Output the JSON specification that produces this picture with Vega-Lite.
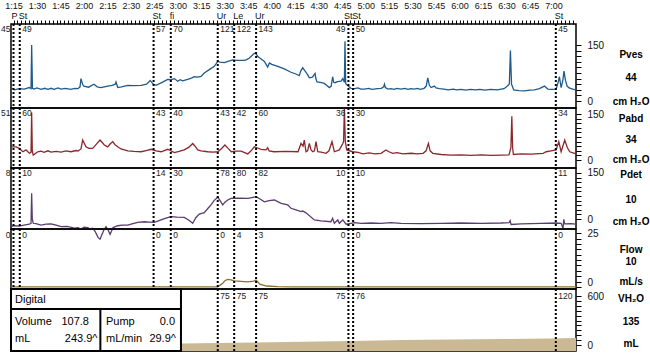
{
"$schema": "https://vega.github.io/schema/vega-lite/v6.json",
"padding": 0,
"spacing": 0,
"bounds": "flush",
"config": {"view": {"stroke": "black", "strokeWidth": 1.5}, "font": "Liberation Sans", "axis": {"grid": false, "domain": false, "tickColor": "black", "labelColor": "#111", "labelFlush": false, "labelOverlap": false, "labelFont": "Liberation Sans"}},
"datasets": {
"events": [
{"t":75,"code":"P","pves":45,"pabd":51,"pdet":8,"flow":0},
{"t":79,"code":"St","pves":49,"pabd":60,"pdet":10,"flow":0},
{"t":164.5,"code":"St","pves":57,"pabd":43,"pdet":14,"flow":0},
{"t":175.5,"code":"fi","pves":70,"pabd":40,"pdet":30,"flow":0},
{"t":205.5,"code":"Ur","pves":121,"pabd":43,"pdet":78,"flow":0,"vol":75},
{"t":216,"code":"Le","pves":122,"pabd":42,"pdet":80,"flow":4,"vol":75},
{"t":230,"code":"Ur","pves":143,"pabd":60,"pdet":82,"flow":3,"vol":75},
{"t":289,"code":"St","pves":49,"pabd":36,"pdet":10,"flow":0,"vol":75},
{"t":292,"code":"St","pves":50,"pabd":30,"pdet":10,"flow":0,"vol":76},
{"t":421.5,"code":"St","pves":45,"pabd":34,"pdet":11,"flow":0,"vol":120}
],
"pves": [{"t":73.4,"v":36},{"t":75.5,"v":30},{"t":78.7,"v":33},{"t":81.9,"v":32},{"t":85.1,"v":36},{"t":86.2,"v":33},{"t":86.6,"v":150},{"t":87.1,"v":34},{"t":88.1,"v":32},{"t":90,"v":35},{"t":92.6,"v":31},{"t":95,"v":34},{"t":97,"v":31},{"t":99,"v":34},{"t":101,"v":31},{"t":103.4,"v":35},{"t":105.4,"v":32},{"t":108,"v":34},{"t":111.7,"v":31},{"t":114,"v":34},{"t":116.2,"v":33},{"t":117.5,"v":38},{"t":118.1,"v":60},{"t":119.2,"v":44},{"t":119.9,"v":40},{"t":123,"v":37},{"t":126.4,"v":45},{"t":128.5,"v":38},{"t":130.9,"v":36},{"t":133,"v":38},{"t":135.2,"v":40},{"t":138,"v":42},{"t":140,"v":45},{"t":140.5,"v":51},{"t":141.6,"v":36},{"t":144,"v":38},{"t":148,"v":42},{"t":152,"v":41},{"t":156.5,"v":42},{"t":160,"v":45},{"t":162.4,"v":55},{"t":164,"v":46},{"t":166.1,"v":42},{"t":170,"v":50},{"t":173.5,"v":58},{"t":175.5,"v":57},{"t":177.8,"v":60},{"t":179.9,"v":53},{"t":181.5,"v":57},{"t":183,"v":54},{"t":186.3,"v":58},{"t":189,"v":62},{"t":190.5,"v":65},{"t":192.7,"v":64},{"t":194.8,"v":66},{"t":196.9,"v":75},{"t":200.1,"v":84},{"t":203.3,"v":93},{"t":205.5,"v":106},{"t":207,"v":104},{"t":209.7,"v":103},{"t":212,"v":106},{"t":215.1,"v":110},{"t":218,"v":109},{"t":222.5,"v":109},{"t":224,"v":111},{"t":225.7,"v":115},{"t":228.9,"v":128},{"t":230,"v":126},{"t":231.1,"v":119},{"t":233,"v":113},{"t":235.3,"v":106},{"t":237.4,"v":91},{"t":238.5,"v":102},{"t":240,"v":98},{"t":243.8,"v":93},{"t":248,"v":86},{"t":252.3,"v":77},{"t":255,"v":73},{"t":257.6,"v":68},{"t":258.5,"v":80},{"t":259.8,"v":89},{"t":261,"v":82},{"t":261.9,"v":77},{"t":263,"v":70},{"t":264,"v":62},{"t":266,"v":64},{"t":267.7,"v":74},{"t":268.2,"v":60},{"t":268.9,"v":51},{"t":271,"v":50},{"t":273.6,"v":47},{"t":275,"v":42},{"t":276.8,"v":36},{"t":278,"v":40},{"t":278.9,"v":65},{"t":279.6,"v":50},{"t":280.4,"v":49},{"t":282,"v":52},{"t":284.3,"v":53},{"t":285.4,"v":60},{"t":286.4,"v":50},{"t":286.8,"v":160},{"t":287.2,"v":48},{"t":287.5,"v":45},{"t":290.6,"v":34},{"t":293,"v":33},{"t":295,"v":35},{"t":297,"v":32},{"t":299.2,"v":32},{"t":302,"v":34},{"t":304,"v":31},{"t":307.7,"v":33},{"t":310,"v":34},{"t":311.5,"v":38},{"t":312,"v":45},{"t":312.6,"v":36},{"t":314.3,"v":32},{"t":316.2,"v":33},{"t":318,"v":31},{"t":320,"v":34},{"t":322.6,"v":32},{"t":325,"v":34},{"t":327,"v":31},{"t":329,"v":33},{"t":331,"v":32},{"t":333,"v":34},{"t":335,"v":31},{"t":337.3,"v":34},{"t":338.7,"v":40},{"t":339.7,"v":62},{"t":340.7,"v":42},{"t":341.8,"v":36},{"t":343.9,"v":40},{"t":345,"v":35},{"t":347.1,"v":33},{"t":350,"v":32},{"t":352.7,"v":30},{"t":356,"v":32},{"t":358,"v":30},{"t":361,"v":31},{"t":364,"v":29},{"t":367,"v":31},{"t":370,"v":30},{"t":373,"v":31},{"t":376,"v":29},{"t":380,"v":31},{"t":384,"v":30},{"t":388.4,"v":33},{"t":390,"v":38},{"t":391.8,"v":45},{"t":392.5,"v":135},{"t":393.2,"v":45},{"t":394.6,"v":30},{"t":398,"v":28},{"t":401.4,"v":27},{"t":405,"v":29},{"t":407.8,"v":30},{"t":411,"v":33},{"t":414.2,"v":40},{"t":416.4,"v":32},{"t":419,"v":31},{"t":421.7,"v":32},{"t":423,"v":50},{"t":423.8,"v":65},{"t":424.9,"v":36},{"t":426,"v":55},{"t":426.7,"v":80},{"t":427.7,"v":55},{"t":428.7,"v":40},{"t":430,"v":35},{"t":432.3,"v":32},{"t":434.4,"v":30}],
"pabd": [{"t":73.4,"v":43},{"t":76.6,"v":43},{"t":78.7,"v":38},{"t":80.9,"v":27},{"t":83,"v":33},{"t":85.1,"v":22},{"t":86.2,"v":25},{"t":86.6,"v":155},{"t":87,"v":30},{"t":87.6,"v":16},{"t":90.5,"v":27},{"t":92.6,"v":29},{"t":94.5,"v":25},{"t":97,"v":30},{"t":99,"v":26},{"t":102.2,"v":28},{"t":105.4,"v":26},{"t":108.5,"v":30},{"t":111.7,"v":27},{"t":115,"v":31},{"t":116.2,"v":29},{"t":118.1,"v":36},{"t":119.2,"v":65},{"t":121.3,"v":43},{"t":123.2,"v":38},{"t":125.6,"v":38},{"t":127.7,"v":50},{"t":130.3,"v":65},{"t":131.6,"v":58},{"t":133,"v":49},{"t":135.2,"v":43},{"t":136.7,"v":52},{"t":138.4,"v":60},{"t":139.9,"v":50},{"t":141.6,"v":43},{"t":143.7,"v":36},{"t":148,"v":30},{"t":152,"v":28},{"t":156.5,"v":27},{"t":159.7,"v":31},{"t":162.9,"v":35},{"t":166.1,"v":30},{"t":169.3,"v":27},{"t":173.5,"v":35},{"t":177.8,"v":24},{"t":180.8,"v":28},{"t":184.1,"v":33},{"t":187.1,"v":42},{"t":189.5,"v":54},{"t":191,"v":45},{"t":192.7,"v":33},{"t":194.8,"v":30},{"t":199.1,"v":27},{"t":202.5,"v":26},{"t":205.5,"v":27},{"t":207.6,"v":36},{"t":210.1,"v":49},{"t":212.1,"v":38},{"t":214.2,"v":27},{"t":217.2,"v":29},{"t":220.4,"v":29},{"t":224.7,"v":20},{"t":226.8,"v":30},{"t":228.9,"v":43},{"t":230.6,"v":40},{"t":233.2,"v":35},{"t":236.3,"v":33},{"t":237.4,"v":40},{"t":238.3,"v":30},{"t":241.5,"v":27},{"t":249.1,"v":28},{"t":256.8,"v":27},{"t":258.7,"v":54},{"t":260,"v":45},{"t":260.8,"v":65},{"t":261.9,"v":27},{"t":262.9,"v":30},{"t":264,"v":54},{"t":265.1,"v":33},{"t":266.2,"v":27},{"t":267.3,"v":30},{"t":268.3,"v":60},{"t":269.4,"v":27},{"t":271.5,"v":26},{"t":274.7,"v":22},{"t":276.6,"v":30},{"t":278.5,"v":60},{"t":280,"v":27},{"t":283.2,"v":33},{"t":285.4,"v":54},{"t":285.9,"v":60},{"t":286.4,"v":168},{"t":287,"v":60},{"t":287.9,"v":33},{"t":291.7,"v":27},{"t":295.1,"v":25},{"t":298.3,"v":20},{"t":302.2,"v":23},{"t":306,"v":20},{"t":309.8,"v":22},{"t":313,"v":33},{"t":314.9,"v":27},{"t":317.3,"v":22},{"t":320,"v":24},{"t":323.9,"v":20},{"t":329,"v":22},{"t":332.8,"v":20},{"t":336.7,"v":22},{"t":338.6,"v":30},{"t":340.1,"v":54},{"t":341.2,"v":30},{"t":342.9,"v":22},{"t":348.2,"v":18},{"t":354.6,"v":16},{"t":361,"v":17},{"t":367.4,"v":15},{"t":373.8,"v":17},{"t":380.1,"v":15},{"t":386.5,"v":16},{"t":391.6,"v":17},{"t":392.8,"v":40},{"t":393.4,"v":143},{"t":393.9,"v":40},{"t":394.4,"v":18},{"t":399.3,"v":20},{"t":405.7,"v":19},{"t":413.4,"v":22},{"t":415.3,"v":27},{"t":418.5,"v":30},{"t":421.7,"v":33},{"t":423.4,"v":60},{"t":424.3,"v":40},{"t":424.9,"v":27},{"t":427.2,"v":65},{"t":428.9,"v":40},{"t":430.4,"v":27},{"t":434.4,"v":20}],
"pdet": [{"t":73.4,"v":-25},{"t":75.5,"v":-22},{"t":78.7,"v":-23},{"t":81.7,"v":-20},{"t":85.1,"v":-17},{"t":86.2,"v":-14},{"t":86.6,"v":84},{"t":87,"v":0},{"t":87.6,"v":-14},{"t":90,"v":-16},{"t":92.6,"v":-20},{"t":95.8,"v":-17},{"t":99,"v":-16},{"t":102.2,"v":-20},{"t":105.4,"v":-25},{"t":109.2,"v":-24},{"t":113.9,"v":-30},{"t":116.2,"v":-28},{"t":118.1,"v":-33},{"t":120.1,"v":-27},{"t":122.4,"v":-28},{"t":123.9,"v":-32},{"t":125.6,"v":-30},{"t":127.1,"v":-40},{"t":129,"v":-60},{"t":130.3,"v":-66},{"t":131.6,"v":-50},{"t":132.8,"v":-35},{"t":134.1,"v":-25},{"t":135.4,"v":-35},{"t":136.7,"v":-50},{"t":137.6,"v":-40},{"t":138.6,"v":-28},{"t":141.6,"v":-22},{"t":144.3,"v":-20},{"t":148,"v":-20},{"t":150.7,"v":-16},{"t":154.4,"v":-11},{"t":158.6,"v":-9},{"t":161.6,"v":-10},{"t":165,"v":-11},{"t":169.3,"v":-3},{"t":172.4,"v":3},{"t":175.6,"v":8},{"t":179.5,"v":6},{"t":184.1,"v":5},{"t":187.1,"v":-4},{"t":189.5,"v":-14},{"t":191.6,"v":5},{"t":193.7,"v":16},{"t":196.9,"v":21},{"t":199.3,"v":35},{"t":201.2,"v":46},{"t":203.1,"v":60},{"t":205.5,"v":71},{"t":207,"v":60},{"t":208.7,"v":46},{"t":210.1,"v":55},{"t":211.9,"v":62},{"t":214,"v":67},{"t":219.1,"v":68},{"t":224.7,"v":67},{"t":227.4,"v":70},{"t":230,"v":73},{"t":232.5,"v":65},{"t":235.3,"v":56},{"t":238.3,"v":60},{"t":241.7,"v":62},{"t":246,"v":51},{"t":250.2,"v":46},{"t":252.3,"v":35},{"t":255.5,"v":30},{"t":258.7,"v":24},{"t":259.8,"v":26},{"t":261.9,"v":20},{"t":267.2,"v":-3},{"t":271.5,"v":-6},{"t":277.8,"v":-9},{"t":278.9,"v":2},{"t":280,"v":-14},{"t":281.1,"v":-8},{"t":282.2,"v":-3},{"t":283.2,"v":-14},{"t":284.3,"v":-8},{"t":285.4,"v":-3},{"t":287.5,"v":-17},{"t":290.6,"v":-14},{"t":292.8,"v":-12},{"t":297,"v":-14},{"t":303.4,"v":-13},{"t":309.8,"v":-14},{"t":316.2,"v":-12},{"t":322.6,"v":-14},{"t":335.4,"v":-15},{"t":348.2,"v":-14},{"t":361,"v":-13},{"t":373.8,"v":-14},{"t":386.5,"v":-13},{"t":391.6,"v":-12},{"t":392.3,"v":-5},{"t":392.9,"v":-18},{"t":399.3,"v":-16},{"t":412.1,"v":-14},{"t":421.7,"v":-13},{"t":424.9,"v":-14},{"t":426.1,"v":-30},{"t":426.6,"v":-1},{"t":427.1,"v":-16},{"t":431.2,"v":-15},{"t":434.4,"v":-17}],
"flow": [{"t":73.4,"v":0},{"t":205.5,"v":0},{"t":207,"v":0.8},{"t":208.7,"v":1.7},{"t":210.3,"v":3},{"t":211.9,"v":3.5},{"t":214,"v":3.3},{"t":216.1,"v":2.8},{"t":220.4,"v":2.6},{"t":224.7,"v":2.3},{"t":228.5,"v":2.7},{"t":230,"v":3.2},{"t":232.4,"v":1.3},{"t":236.7,"v":0.4},{"t":243.9,"v":0.1},{"t":252.3,"v":0},{"t":434.4,"v":0}],
"vol": [{"t":150,"v":16},{"t":182,"v":19},{"t":206,"v":25},{"t":259,"v":41},{"t":291,"v":50},{"t":323,"v":62},{"t":355,"v":68},{"t":387,"v":74},{"t":418,"v":80},{"t":434.4,"v":86}],
"one": [{}]
},
"vconcat": [
{
"width": 565, "height": 84,
"layer": [
{"data": {"name": "pves"}, "mark": {"type": "line", "color": "#1e5a8c", "strokeWidth": 1.3},
 "encoding": {
  "x": {"field": "t", "type": "quantitative", "scale": {"domain": [73.4, 434.4], "nice": false, "zero": false},
   "axis": {"orient": "top", "title": null, "tickSize": 4, "tickCount": 500, "labelPadding": 10, "labelFontSize": 9, "labelOverlap": false, "labelFlush": false,
    "values": [75,77.5,80,82.5,85,87.5,90,92.5,95,97.5,100,102.5,105,107.5,110,112.5,115,117.5,120,122.5,125,127.5,130,132.5,135,137.5,140,142.5,145,147.5,150,152.5,155,157.5,160,162.5,165,167.5,170,172.5,175,177.5,180,182.5,185,187.5,190,192.5,195,197.5,200,202.5,205,207.5,210,212.5,215,217.5,220,222.5,225,227.5,230,232.5,235,237.5,240,242.5,245,247.5,250,252.5,255,257.5,260,262.5,265,267.5,270,272.5,275,277.5,280,282.5,285,287.5,290,292.5,295,297.5,300,302.5,305,307.5,310,312.5,315,317.5,320,322.5,325,327.5,330,332.5,335,337.5,340,342.5,345,347.5,350,352.5,355,357.5,360,362.5,365,367.5,370,372.5,375,377.5,380,382.5,385,387.5,390,392.5,395,397.5,400,402.5,405,407.5,410,412.5,415,417.5,420,422.5,425,427.5,430,432.5],
    "labelExpr": "datum.value % 15 == 0 ? floor(datum.value/60) + ':' + (datum.value % 60 < 10 ? '0' : '') + (datum.value % 60) : ''"}},
  "y": {"field": "v", "type": "quantitative", "scale": {"domain": [-18.75, 206.25], "nice": false, "zero": false},
   "axis": {"orient": "right", "title": null, "tickCount": 50, "values": [0,15,30,45,60,75,90,105,120,135,150], "labelExpr": "datum.value == 0 || datum.value == 150 ? datum.label : ''", "tickSize": 5, "labelPadding": 6, "labelFontSize": 10, "labelBaseline": "middle", "labelOverlap": false, "labelFlush": false}}
 }},
{"data": {"name": "events"}, "mark": {"type": "rule", "color": "black", "strokeWidth": 2, "strokeDash": [2, 2]}, "encoding": {"x": {"field": "t", "type": "quantitative"}}},
{"data": {"name": "events"}, "transform": [{"filter": "datum.t == 75 || datum.t == 289"}], "mark": {"type": "text", "align": "right", "dx": -3, "baseline": "middle", "fontSize": 8.5, "color": "#222"}, "encoding": {"x": {"field": "t", "type": "quantitative"}, "y": {"datum": 192.9}, "text": {"field": "pves"}}},
{"data": {"name": "events"}, "transform": [{"filter": "datum.t != 75 && datum.t != 289"}], "mark": {"type": "text", "align": "left", "dx": 2.5, "baseline": "middle", "fontSize": 8.5, "color": "#222"}, "encoding": {"x": {"field": "t", "type": "quantitative"}, "y": {"datum": 192.9}, "text": {"field": "pves"}}},
{"data": {"name": "events"}, "transform": [{"filter": "datum.t == 75 || datum.t == 289"}], "mark": {"type": "text", "align": "right", "dx": 4, "baseline": "middle", "fontSize": 9, "color": "#111"}, "encoding": {"x": {"field": "t", "type": "quantitative"}, "y": {"datum": 229}, "text": {"field": "code"}}},
{"data": {"name": "events"}, "transform": [{"filter": "datum.t != 75 && datum.t != 289"}], "mark": {"type": "text", "align": "left", "dx": -1, "baseline": "middle", "fontSize": 9, "color": "#111"}, "encoding": {"x": {"field": "t", "type": "quantitative"}, "y": {"datum": 229}, "text": {"field": "code"}}},
{"data": {"name": "one"}, "mark": {"type": "text", "fontWeight": "bold", "fontSize": 10, "baseline": "middle", "text": "Pves"}, "encoding": {"x": {"datum": 469.6}, "y": {"datum": 123.2}}},
{"data": {"name": "one"}, "mark": {"type": "text", "fontWeight": "bold", "fontSize": 10, "baseline": "middle", "text": "44"}, "encoding": {"x": {"datum": 469.6}, "y": {"datum": 61.6}}},
{"data": {"name": "one"}, "mark": {"type": "text", "fontWeight": "bold", "fontSize": 10, "baseline": "middle", "text": "cm H₂O"}, "encoding": {"x": {"datum": 469.6}, "y": {"datum": -1.4}}}
]
},
{
"width": 565, "height": 60,
"layer": [
{"data": {"name": "pabd"}, "mark": {"type": "line", "color": "#8c282d", "strokeWidth": 1.3},
 "encoding": {
  "x": {"field": "t", "type": "quantitative", "scale": {"domain": [73.4, 434.4], "nice": false, "zero": false}, "axis": null},
  "y": {"field": "v", "type": "quantitative", "scale": {"domain": [-26, 169.6], "nice": false, "zero": false},
   "axis": {"orient": "right", "title": null, "tickCount": 50, "values": [0,15,30,45,60,75,90,105,120,135,150], "labelExpr": "datum.value == 0 || datum.value == 150 ? datum.label : ''", "tickSize": 5, "labelPadding": 6, "labelFontSize": 10, "labelBaseline": "middle", "labelOverlap": false, "labelFlush": false}}
 }},
{"data": {"name": "events"}, "mark": {"type": "rule", "color": "black", "strokeWidth": 2, "strokeDash": [2, 2]}, "encoding": {"x": {"field": "t", "type": "quantitative", "axis": null}}},
{"data": {"name": "events"}, "transform": [{"filter": "datum.t == 75 || datum.t == 289"}], "mark": {"type": "text", "align": "right", "dx": -3, "baseline": "middle", "fontSize": 8.5, "color": "#222"}, "encoding": {"x": {"field": "t", "type": "quantitative", "axis": null}, "y": {"datum": 151.7}, "text": {"field": "pabd"}}},
{"data": {"name": "events"}, "transform": [{"filter": "datum.t != 75 && datum.t != 289"}], "mark": {"type": "text", "align": "left", "dx": 2.5, "baseline": "middle", "fontSize": 8.5, "color": "#222"}, "encoding": {"x": {"field": "t", "type": "quantitative", "axis": null}, "y": {"datum": 151.7}, "text": {"field": "pabd"}}},
{"data": {"name": "one"}, "mark": {"type": "text", "fontWeight": "bold", "fontSize": 10, "baseline": "middle", "text": "Pabd"}, "encoding": {"x": {"datum": 469.6, "axis": null}, "y": {"datum": 133.7}}},
{"data": {"name": "one"}, "mark": {"type": "text", "fontWeight": "bold", "fontSize": 10, "baseline": "middle", "text": "34"}, "encoding": {"x": {"datum": 469.6, "axis": null}, "y": {"datum": 65.3}}},
{"data": {"name": "one"}, "mark": {"type": "text", "fontWeight": "bold", "fontSize": 10, "baseline": "middle", "text": "cm H₂O"}, "encoding": {"x": {"datum": 469.6, "axis": null}, "y": {"datum": 1.7}}}
]
},
{
"width": 565, "height": 61,
"layer": [
{"data": {"name": "pdet"}, "mark": {"type": "line", "color": "#5a3c6e", "strokeWidth": 1.3, "clip": false},
 "encoding": {
  "x": {"field": "t", "type": "quantitative", "scale": {"domain": [73.4, 434.4], "nice": false, "zero": false}, "axis": null},
  "y": {"field": "v", "type": "quantitative", "scale": {"domain": [-32.6, 166.3], "nice": false, "zero": false},
   "axis": {"orient": "right", "title": null, "tickCount": 50, "values": [0,15,30,45,60,75,90,105,120,135,150], "labelExpr": "datum.value == 0 || datum.value == 150 ? datum.label : ''", "tickSize": 5, "labelPadding": 6, "labelFontSize": 10, "labelBaseline": "middle", "labelOverlap": false, "labelFlush": false}}
 }},
{"data": {"name": "events"}, "mark": {"type": "rule", "color": "black", "strokeWidth": 2, "strokeDash": [2, 2]}, "encoding": {"x": {"field": "t", "type": "quantitative", "axis": null}}},
{"data": {"name": "events"}, "transform": [{"filter": "datum.t == 75 || datum.t == 289"}], "mark": {"type": "text", "align": "right", "dx": -3, "baseline": "middle", "fontSize": 8.5, "color": "#222"}, "encoding": {"x": {"field": "t", "type": "quantitative", "axis": null}, "y": {"datum": 150}, "text": {"field": "pdet"}}},
{"data": {"name": "events"}, "transform": [{"filter": "datum.t != 75 && datum.t != 289"}], "mark": {"type": "text", "align": "left", "dx": 2.5, "baseline": "middle", "fontSize": 8.5, "color": "#222"}, "encoding": {"x": {"field": "t", "type": "quantitative", "axis": null}, "y": {"datum": 150}, "text": {"field": "pdet"}}},
{"data": {"name": "one"}, "mark": {"type": "text", "fontWeight": "bold", "fontSize": 10, "baseline": "middle", "text": "Pdet"}, "encoding": {"x": {"datum": 469.6, "axis": null}, "y": {"datum": 143.5}}},
{"data": {"name": "one"}, "mark": {"type": "text", "fontWeight": "bold", "fontSize": 10, "baseline": "middle", "text": "10"}, "encoding": {"x": {"datum": 469.6, "axis": null}, "y": {"datum": 62}}},
{"data": {"name": "one"}, "mark": {"type": "text", "fontWeight": "bold", "fontSize": 10, "baseline": "middle", "text": "cm H₂O"}, "encoding": {"x": {"datum": 469.6, "axis": null}, "y": {"datum": -9}}}
]
},
{
"width": 565, "height": 60,
"layer": [
{"data": {"name": "flow"}, "mark": {"type": "line", "color": "#8c6e32", "strokeWidth": 1.3},
 "encoding": {
  "x": {"field": "t", "type": "quantitative", "scale": {"domain": [73.4, 434.4], "nice": false, "zero": false}, "axis": null},
  "y": {"field": "v", "type": "quantitative", "scale": {"domain": [-1, 27], "nice": false, "zero": false},
   "axis": {"orient": "right", "title": null, "tickCount": 50, "values": [0,2.5,5,7.5,10,12.5,15,17.5,20,22.5,25], "labelExpr": "datum.value == 0 ? '0' : (datum.value == 25 ? '25' : '')", "tickSize": 5, "labelPadding": 6, "labelFontSize": 10, "labelBaseline": "middle", "labelOverlap": false, "labelFlush": false, "labelOffset": {"condition": {"test": "datum.value == 0", "value": -4}, "value": 0}}}
 }},
{"data": {"name": "events"}, "mark": {"type": "rule", "color": "black", "strokeWidth": 2, "strokeDash": [2, 2]}, "encoding": {"x": {"field": "t", "type": "quantitative", "axis": null}}},
{"data": {"name": "events"}, "transform": [{"filter": "datum.t == 75 || datum.t == 289"}], "mark": {"type": "text", "align": "right", "dx": -3, "baseline": "middle", "fontSize": 8.5, "color": "#222"}, "encoding": {"x": {"field": "t", "type": "quantitative", "axis": null}, "y": {"datum": 24.4}, "text": {"field": "flow"}}},
{"data": {"name": "events"}, "transform": [{"filter": "datum.t != 75 && datum.t != 289"}], "mark": {"type": "text", "align": "left", "dx": 2.5, "baseline": "middle", "fontSize": 8.5, "color": "#222"}, "encoding": {"x": {"field": "t", "type": "quantitative", "axis": null}, "y": {"datum": 24.4}, "text": {"field": "flow"}}},
{"data": {"name": "one"}, "mark": {"type": "text", "fontWeight": "bold", "fontSize": 10, "baseline": "middle", "text": "Flow"}, "encoding": {"x": {"datum": 469.6, "axis": null}, "y": {"datum": 17.2}}},
{"data": {"name": "one"}, "mark": {"type": "text", "fontWeight": "bold", "fontSize": 10, "baseline": "middle", "text": "10"}, "encoding": {"x": {"datum": 469.6, "axis": null}, "y": {"datum": 11.7}}},
{"data": {"name": "one"}, "mark": {"type": "text", "fontWeight": "bold", "fontSize": 10, "baseline": "middle", "text": "mL/s"}, "encoding": {"x": {"datum": 469.6, "axis": null}, "y": {"datum": 2.3}}}
]
},
{
"width": 565, "height": 62,
"layer": [
{"data": {"name": "vol"}, "mark": {"type": "area", "color": "#cbb994", "opacity": 1},
 "encoding": {
  "x": {"field": "t", "type": "quantitative", "scale": {"domain": [73.4, 434.4], "nice": false, "zero": false}, "axis": null},
  "y": {"field": "v", "type": "quantitative", "scale": {"domain": [-73, 686], "nice": false, "zero": false},
   "axis": {"orient": "right", "title": null, "tickCount": 50, "values": [0,60,120,180,240,300,360,420,480,540,600], "labelExpr": "datum.value == 0 || datum.value == 600 ? datum.label : ''", "tickSize": 5, "labelPadding": 6, "labelFontSize": 10, "labelBaseline": "middle", "labelOverlap": false, "labelFlush": false}},
  "y2": {"datum": -73}
 }},
{"data": {"name": "events"}, "mark": {"type": "rule", "color": "black", "strokeWidth": 2, "strokeDash": [2, 2]}, "encoding": {"x": {"field": "t", "type": "quantitative", "axis": null}}},
{"data": {"name": "events"}, "transform": [{"filter": "isValid(datum.vol) && datum.t == 289"}], "mark": {"type": "text", "align": "right", "dx": -3, "baseline": "middle", "fontSize": 8.5, "color": "#222"}, "encoding": {"x": {"field": "t", "type": "quantitative", "axis": null}, "y": {"datum": 600}, "text": {"field": "vol"}}},
{"data": {"name": "events"}, "transform": [{"filter": "isValid(datum.vol) && datum.t != 289"}], "mark": {"type": "text", "align": "left", "dx": 2.5, "baseline": "middle", "fontSize": 8.5, "color": "#222"}, "encoding": {"x": {"field": "t", "type": "quantitative", "axis": null}, "y": {"datum": 600}, "text": {"field": "vol"}}},
{"data": {"name": "one"}, "mark": {"type": "rect", "fill": "white", "stroke": "black", "strokeWidth": 2}, "encoding": {"x": {"datum": 73.4, "axis": null}, "x2": {"datum": 182}, "y": {"datum": -73}, "y2": {"datum": 686}}},
{"data": {"name": "one"}, "mark": {"type": "rule", "color": "black", "strokeWidth": 2}, "encoding": {"x": {"datum": 73.4, "axis": null}, "x2": {"datum": 182}, "y": {"datum": 441}}},
{"data": {"name": "one"}, "mark": {"type": "rule", "color": "black", "strokeWidth": 2}, "encoding": {"x": {"datum": 130.5, "axis": null}, "y": {"datum": -73}, "y2": {"datum": 441}}},
{"data": {"name": "one"}, "mark": {"type": "text", "fontSize": 11, "align": "left", "baseline": "middle", "text": "Digital"}, "encoding": {"x": {"datum": 76, "axis": null}, "y": {"datum": 551}}},
{"data": {"name": "one"}, "mark": {"type": "text", "fontSize": 11, "align": "left", "baseline": "middle", "text": "Volume"}, "encoding": {"x": {"datum": 76, "axis": null}, "y": {"datum": 282}}},
{"data": {"name": "one"}, "mark": {"type": "text", "fontSize": 11, "align": "right", "baseline": "middle", "text": "107.8"}, "encoding": {"x": {"datum": 123.2, "axis": null}, "y": {"datum": 282}}},
{"data": {"name": "one"}, "mark": {"type": "text", "fontSize": 11, "align": "left", "baseline": "middle", "text": "mL"}, "encoding": {"x": {"datum": 76, "axis": null}, "y": {"datum": 74}}},
{"data": {"name": "one"}, "mark": {"type": "text", "fontSize": 11, "align": "right", "baseline": "middle", "text": "243.9^"}, "encoding": {"x": {"datum": 128.7, "axis": null}, "y": {"datum": 74}}},
{"data": {"name": "one"}, "mark": {"type": "text", "fontSize": 11, "align": "left", "baseline": "middle", "text": "Pump"}, "encoding": {"x": {"datum": 134.1, "axis": null}, "y": {"datum": 282}}},
{"data": {"name": "one"}, "mark": {"type": "text", "fontSize": 11, "align": "right", "baseline": "middle", "text": "0.0"}, "encoding": {"x": {"datum": 178.2, "axis": null}, "y": {"datum": 282}}},
{"data": {"name": "one"}, "mark": {"type": "text", "fontSize": 11, "align": "left", "baseline": "middle", "text": "mL/min"}, "encoding": {"x": {"datum": 134.1, "axis": null}, "y": {"datum": 74}}},
{"data": {"name": "one"}, "mark": {"type": "text", "fontSize": 11, "align": "right", "baseline": "middle", "text": "29.9^"}, "encoding": {"x": {"datum": 178.8, "axis": null}, "y": {"datum": 74}}},
{"data": {"name": "one"}, "mark": {"type": "text", "fontWeight": "bold", "fontSize": 10, "baseline": "middle", "text": "VH₂O"}, "encoding": {"x": {"datum": 469.6, "axis": null}, "y": {"datum": 563.6}}},
{"data": {"name": "one"}, "mark": {"type": "text", "fontWeight": "bold", "fontSize": 10, "baseline": "middle", "text": "135"}, "encoding": {"x": {"datum": 469.6, "axis": null}, "y": {"datum": 282}}},
{"data": {"name": "one"}, "mark": {"type": "text", "fontWeight": "bold", "fontSize": 10, "baseline": "middle", "text": "mL"}, "encoding": {"x": {"datum": 469.6, "axis": null}, "y": {"datum": 6.7}}}
]
}
]
}
